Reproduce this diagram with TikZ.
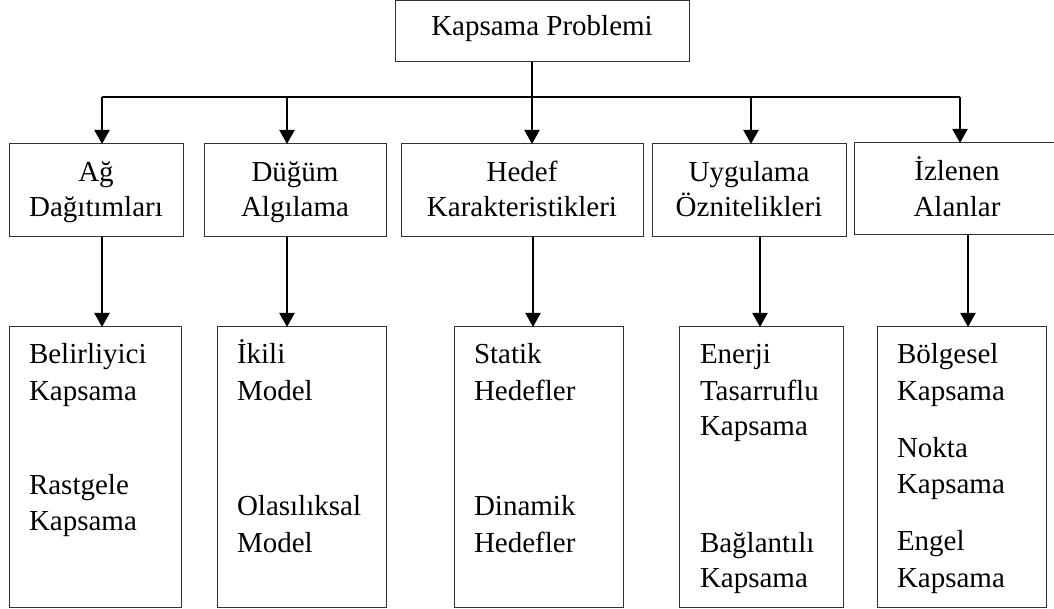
\documentclass[tikz,border=0pt]{standalone}
\usepackage{fontspec}
\setmainfont{Liberation Serif}
\usetikzlibrary{arrows.meta}
\begin{document}
\begin{tikzpicture}[x=1pt,y=-1pt,
  box/.style={draw=black!80,line width=1pt,inner sep=0pt,outer sep=0pt},
  txt/.style={inner sep=0pt,outer sep=0pt,font=\fontsize{29}{35}\selectfont},
  link/.style={line width=2pt,black},
  arr/.style={link,-{Triangle[width=15pt,length=14pt]}}]
\useasboundingbox (0,0) rectangle (1054,609);

% root box
\node[box,minimum width=294pt,minimum height=61pt] (root) at (542,31.5) {};
\node[txt,anchor=base] (rootT) at (542,36) {Kapsama Problemi};

% second level boxes
\node[box,minimum width=174pt,minimum height=93pt] (B1) at (96,190.5) {};
\node[box,minimum width=182pt,minimum height=93pt] (B2) at (295,190.5) {};
\node[box,minimum width=242pt,minimum height=93pt] (B3) at (522,190.5) {};
\node[box,minimum width=194pt,minimum height=93pt] (B4) at (749,190.5) {};
\node[box,minimum width=204pt,minimum height=92pt] (B5) at (956,189) {};

\node[txt,anchor=base] (B1a) at (96,182) {Ağ};
\node[txt,anchor=base] (B1b) at (96,217) {Dağıtımları};
\node[txt,anchor=base] (B2a) at (295,182) {Düğüm};
\node[txt,anchor=base] (B2b) at (295,217) {Algılama};
\node[txt,anchor=base] (B3a) at (522,182) {Hedef};
\node[txt,anchor=base] (B3b) at (522,217) {Karakteristikleri};
\node[txt,anchor=base] (B4a) at (749,182) {Uygulama};
\node[txt,anchor=base] (B4b) at (749,217) {Öznitelikleri};
\node[txt,anchor=base] (B5a) at (957,181) {İzlenen};
\node[txt,anchor=base] (B5b) at (957,217) {Alanlar};

% third level boxes
\node[box,minimum width=172pt,minimum height=280pt] (C1) at (95,467) {};
\node[box,minimum width=169pt,minimum height=280pt] (C2) at (301.5,467) {};
\node[box,minimum width=169pt,minimum height=280pt] (C3) at (538.5,467) {};
\node[box,minimum width=164pt,minimum height=280pt] (C4) at (761,467) {};
\node[box,minimum width=169pt,minimum height=280pt] (C5) at (961.5,467) {};

\node[txt,anchor=base west] (C1a) at (29,363) {Belirliyici};
\node[txt,anchor=base west] (C1b) at (29,400) {Kapsama};
\node[txt,anchor=base west] (C1c) at (29,494) {Rastgele};
\node[txt,anchor=base west] (C1d) at (29,530) {Kapsama};

\node[txt,anchor=base west] (C2a) at (237,363) {İkili};
\node[txt,anchor=base west] (C2b) at (237,400) {Model};
\node[txt,anchor=base west] (C2c) at (237,515) {Olasılıksal};
\node[txt,anchor=base west] (C2d) at (237,552) {Model};

\node[txt,anchor=base west] (C3a) at (474,363) {Statik};
\node[txt,anchor=base west] (C3b) at (474,400) {Hedefler};
\node[txt,anchor=base west] (C3c) at (474,515) {Dinamik};
\node[txt,anchor=base west] (C3d) at (474,552) {Hedefler};

\node[txt,anchor=base west] (C4a) at (700,363) {Enerji};
\node[txt,anchor=base west] (C4b) at (700,400) {Tasarruflu};
\node[txt,anchor=base west] (C4c) at (700,435) {Kapsama};
\node[txt,anchor=base west] (C4d) at (700,552) {Bağlantılı};
\node[txt,anchor=base west] (C4e) at (700,587) {Kapsama};

\node[txt,anchor=base west] (C5a) at (897,363) {Bölgesel};
\node[txt,anchor=base west] (C5b) at (897,400) {Kapsama};
\node[txt,anchor=base west] (C5c) at (897,457) {Nokta};
\node[txt,anchor=base west] (C5d) at (897,493) {Kapsama};
\node[txt,anchor=base west] (C5e) at (897,550) {Engel};
\node[txt,anchor=base west] (C5f) at (897,587) {Kapsama};

% distribution bus
\coordinate (j1) at (102,97);
\coordinate (j2) at (287,97);
\coordinate (j3) at (532,97);
\coordinate (j4) at (751,97);
\coordinate (j5) at (960,97);
\draw[link] (j1) -- (j5);
\draw[arr] (root.south -| j3) -- (B3.north -| j3);
\draw[arr] (j1) -- (B1.north -| j1);
\draw[arr] (j2) -- (B2.north -| j2);
\draw[arr] (j4) -- (B4.north -| j4);
\draw[arr] (j5) -- (B5.north -| j5);

% second to third level
\coordinate (k1) at (102,0);
\coordinate (k2) at (287,0);
\coordinate (k3) at (533,0);
\coordinate (k4) at (760,0);
\coordinate (k5) at (968,0);
\draw[arr] (B1.south -| k1) -- (C1.north -| k1);
\draw[arr] (B2.south -| k2) -- (C2.north -| k2);
\draw[arr] (B3.south -| k3) -- (C3.north -| k3);
\draw[arr] (B4.south -| k4) -- (C4.north -| k4);
\draw[arr] (B5.south -| k5) -- (C5.north -| k5);
\end{tikzpicture}
\end{document}
